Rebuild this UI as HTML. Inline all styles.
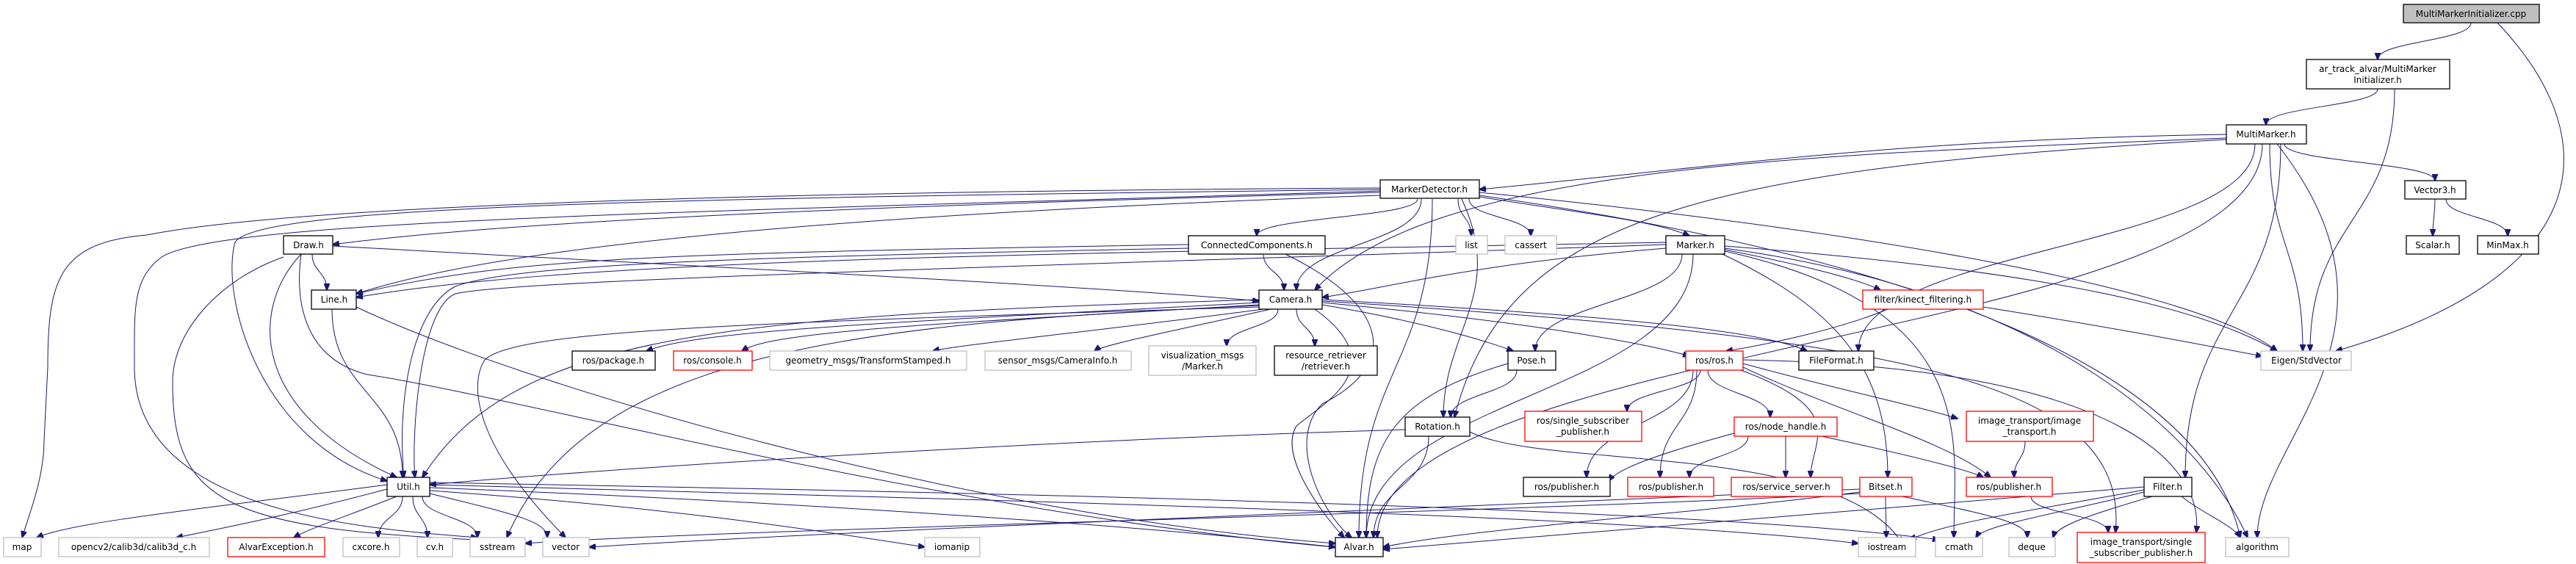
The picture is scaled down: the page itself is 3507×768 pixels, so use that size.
<!DOCTYPE html>
<html><head><meta charset="utf-8"><style>
html,body{margin:0;padding:0;background:#fff;}
svg{display:block;}
text{font-family:"DejaVu Sans","Liberation Sans",sans-serif;font-size:12px;fill:#000;text-anchor:middle;}
.b{fill:#fff;stroke:#000;stroke-width:1.3;}
.g{fill:#fff;stroke:#bfbfbf;stroke-width:1.3;}
.r{fill:#fff;stroke:#ff0000;stroke-width:1.3;}
.e{fill:none;stroke:#191970;stroke-width:1;marker-end:url(#a);}
</style></head><body>
<svg width="3507" height="768" viewBox="0 0 3507 768" xmlns="http://www.w3.org/2000/svg">
<defs><marker id="a" markerWidth="10" markerHeight="8" refX="9" refY="4" orient="auto" markerUnits="userSpaceOnUse"><path d="M0,0 L10,4 L0,8 z" fill="#191970" stroke="#191970"/></marker></defs>
<g>
<path class="e" d="M3364,31 C3364,56 3237,56 3237,81"/>
<path class="e" d="M3400,31 C3560,200 3520,380 3180,478"/>
<path class="e" d="M3237,121 C3237,145 3085,145 3085,170"/>
<path class="e" d="M3260,121 C3260,300 3145,300 3145,478"/>
<path class="e" d="M3110,196 C3110,221 3315,221 3315,246"/>
<path class="e" d="M3315,271 C3315,296 3312,296 3312,321"/>
<path class="e" d="M3330,271 C3330,296 3414,296 3414,321"/>
<path class="e" d="M3031,183 C2600,190 2400,220 2014,258"/>
<path class="e" d="M3031,188 C2500,210 1950,220 1790,395"/>
<path class="e" d="M3090,196 C3090,337 3135,337 3135,478"/>
<path class="e" d="M3100,196 C3300,450 3073,600 3073,732"/>
<path class="e" d="M3105,196 C3105,423 2975,423 2975,650"/>
<path class="e" d="M3070,196 C3070,337 2530,337 2530,478"/>
<path class="e" d="M3080,196 C3080,464 1875,464 1875,732"/>
<path class="e" d="M3031,190 C2300,230 2050,300 1980,568"/>
<path class="e" d="M1930,271 C1930,296 1711,296 1711,321"/>
<path class="e" d="M1985,271 C1985,296 2003,296 2003,321"/>
<path class="e" d="M2000,271 C2000,296 2084,296 2084,321"/>
<path class="e" d="M2014,268 C2150,290 2250,300 2300,321"/>
<path class="e" d="M1935,271 C1935,333 1765,333 1765,395"/>
<path class="e" d="M1879,262 C1200,280 700,300 453,333"/>
<path class="e" d="M1879,266 C1200,290 700,330 485,400"/>
<path class="e" d="M1879,258 C900,270 350,280 320,330 C300,400 350,600 527,655"/>
<path class="e" d="M1879,256 C800,262 350,290 200,320 C80,330 65,380 65,500 L60,600 C60,650 40,700 30,732"/>
<path class="e" d="M1879,260 C900,290 300,300 220,350 C180,380 183,420 183,500 C183,700 500,720 650,732"/>
<path class="e" d="M1950,271 C1950,500 1850,500 1850,732"/>
<path class="e" d="M1990,271 C2050,400 1965,450 1965,568"/>
<path class="e" d="M2014,262 C2600,320 3000,400 3100,478"/>
<path class="e" d="M2014,266 C2600,350 3000,500 3050,732"/>
<path class="e" d="M1720,346 C1720,370 1748,370 1748,395"/>
<path class="e" d="M1618,333 C900,345 700,350 485,400"/>
<path class="e" d="M1618,338 C1000,350 700,360 620,390 C560,420 540,550 550,650"/>
<path class="e" d="M1750,346 C1900,420 1900,500 1800,550 C1750,600 1800,700 1840,732"/>
<path class="e" d="M2268,338 C2000,360 1900,390 1800,405"/>
<path class="e" d="M2268,333 C1500,360 700,380 620,400 C570,420 560,600 565,650"/>
<path class="e" d="M2268,330 C1500,345 800,350 485,405"/>
<path class="e" d="M2290,346 C2290,412 2090,412 2090,478"/>
<path class="e" d="M2305,346 C2305,539 1860,539 1860,732"/>
<path class="e" d="M2348,340 C2450,360 2530,380 2560,395"/>
<path class="e" d="M2345,346 C2500,420 2570,500 2570,650"/>
<path class="e" d="M2348,335 C2800,370 3000,420 3100,478"/>
<path class="e" d="M2348,338 C2800,400 3000,600 3060,732"/>
<path class="e" d="M2348,342 C2700,420 2660,600 2660,732"/>
<path class="e" d="M425,346 C425,370 445,370 445,395"/>
<path class="e" d="M410,346 C340,420 340,560 540,650"/>
<path class="e" d="M453,335 C900,360 1500,390 1714,410"/>
<path class="e" d="M386,350 C300,380 235,450 235,520 C235,680 300,720 650,735"/>
<path class="e" d="M410,346 C400,420 420,490 500,510 C700,540 1300,700 1818,745"/>
<path class="e" d="M452,421 C452,535 548,535 548,650"/>
<path class="e" d="M485,418 C700,520 1300,700 1818,740"/>
<path class="e" d="M1714,408 C1000,430 700,450 575,650"/>
<path class="e" d="M1714,412 C1200,440 950,450 880,478"/>
<path class="e" d="M1714,415 C1300,440 1050,450 1010,478"/>
<path class="e" d="M1720,421 C1500,450 1300,470 1270,478"/>
<path class="e" d="M1730,421 C1600,450 1500,470 1490,478"/>
<path class="e" d="M1740,421 C1740,446 1670,446 1670,471"/>
<path class="e" d="M1765,421 C1765,446 1790,446 1790,471"/>
<path class="e" d="M1800,415 C1950,440 2040,470 2060,478"/>
<path class="e" d="M1800,412 C2100,440 2250,470 2300,485"/>
<path class="e" d="M1800,408 C2200,430 2400,450 2460,478"/>
<path class="e" d="M1790,421 C1900,500 1800,550 1765,580 C1740,620 1800,700 1830,732"/>
<path class="e" d="M1714,418 C1000,440 700,450 660,490 C640,520 640,600 770,732"/>
<path class="e" d="M1714,416 C1200,440 800,470 690,732"/>
<path class="e" d="M1800,410 C2600,460 2900,520 2880,725"/>
<path class="e" d="M2570,421 C2500,450 2400,470 2350,478"/>
<path class="e" d="M2700,418 C2900,450 3000,470 3080,485"/>
<path class="e" d="M2065,504 C2065,536 1975,536 1975,568"/>
<path class="e" d="M2053,495 C1900,540 1860,600 1860,732"/>
<path class="e" d="M2315,504 C2315,532 2215,532 2215,560"/>
<path class="e" d="M2325,504 C2325,536 2410,536 2410,568"/>
<path class="e" d="M2305,504 C2305,577 2160,577 2160,650"/>
<path class="e" d="M2310,504 C2310,577 2260,577 2260,650"/>
<path class="e" d="M2370,504 C2520,560 2465,600 2465,650"/>
<path class="e" d="M2373,500 C2500,560 2650,600 2710,650"/>
<path class="e" d="M2373,495 C2500,530 2620,555 2665,570"/>
<path class="e" d="M2373,490 C2900,500 3000,640 2990,725"/>
<path class="e" d="M2380,594 C2380,622 2300,622 2300,650"/>
<path class="e" d="M2361,590 C2250,620 2200,640 2190,655"/>
<path class="e" d="M2431,594 C2431,622 2431,622 2431,650"/>
<path class="e" d="M2480,594 C2600,620 2680,640 2700,650"/>
<path class="e" d="M2757,601 C2757,625 2742,625 2742,650"/>
<path class="e" d="M2765,676 C2765,700 2870,700 2870,725"/>
<path class="e" d="M1913,585 C1400,600 800,640 585,660"/>
<path class="e" d="M1945,594 C1945,663 1870,663 1870,732"/>
<path class="e" d="M2001,588 C2100,640 2500,600 2590,740"/>
<path class="e" d="M527,660 C300,690 100,710 50,732"/>
<path class="e" d="M527,666 C400,700 300,720 240,732"/>
<path class="e" d="M540,676 C480,700 420,720 400,732"/>
<path class="e" d="M548,676 C548,704 515,704 515,732"/>
<path class="e" d="M562,676 C562,704 582,704 582,732"/>
<path class="e" d="M575,676 C575,704 650,704 650,732"/>
<path class="e" d="M585,672 C700,700 745,710 745,732"/>
<path class="e" d="M585,668 C900,690 1100,720 1259,745"/>
<path class="e" d="M585,664 C1000,680 1500,710 1818,745"/>
<path class="e" d="M585,660 C1300,680 2200,700 2530,740"/>
<path class="e" d="M585,657 C1300,670 2300,690 2640,735"/>
<path class="e" d="M2567,676 C2567,704 2568,704 2568,732"/>
<path class="e" d="M2590,676 C2700,700 2760,710 2760,732"/>
<path class="e" d="M2532,670 C2300,700 2000,720 1883,745"/>
<path class="e" d="M2532,666 C2000,690 1200,720 802,745"/>
<path class="e" d="M2532,672 C2000,700 1000,720 715,740"/>
<path class="e" d="M2919,663 C2500,700 2100,730 1883,748"/>
<path class="e" d="M2970,676 C3000,700 3040,715 3050,732"/>
<path class="e" d="M2930,676 C2850,700 2800,715 2795,732"/>
<path class="e" d="M2919,670 C2800,700 2700,715 2690,732"/>
<path class="e" d="M2919,667 C2800,690 2650,710 2600,735"/>
</g>
<g>
<rect x="3272" y="6" width="185" height="25" fill="#bfbfbf" stroke="#000" stroke-width="1.3"/><text x="3364" y="23">MultiMarkerInitializer.cpp</text>
<rect class="b" x="3140" y="81" width="195" height="40"/><text x="3237" y="98">ar_track_alvar/MultiMarker</text><text x="3237" y="113">Initializer.h</text>
<rect class="b" x="3031" y="170" width="109" height="26"/><text x="3085" y="187">MultiMarker.h</text>
<rect class="b" x="3274" y="246" width="83" height="25"/><text x="3315" y="263">Vector3.h</text>
<rect class="b" x="3276" y="321" width="72" height="25"/><text x="3312" y="338">Scalar.h</text>
<rect class="b" x="3373" y="321" width="83" height="25"/><text x="3414" y="338">MinMax.h</text>
<rect class="b" x="1879" y="245" width="135" height="25"/><text x="1946" y="262">MarkerDetector.h</text>
<rect class="b" x="1618" y="321" width="186" height="25"/><text x="1711" y="338">ConnectedComponents.h</text>
<rect class="g" x="1982" y="321" width="43" height="25"/><text x="2003" y="338">list</text>
<rect class="g" x="2049" y="321" width="70" height="25"/><text x="2084" y="338">cassert</text>
<rect class="b" x="2268" y="321" width="80" height="25"/><text x="2308" y="338">Marker.h</text>
<rect class="b" x="386" y="321" width="67" height="25"/><text x="420" y="338">Draw.h</text>
<rect class="b" x="424" y="395" width="61" height="26"/><text x="455" y="412">Line.h</text>
<rect class="b" x="1714" y="395" width="86" height="26"/><text x="1757" y="412">Camera.h</text>
<rect class="r" x="2536" y="395" width="164" height="26"/><text x="2618" y="412">filter/kinect_filtering.h</text>
<rect class="b" x="779" y="478" width="113" height="26"/><text x="835" y="495">ros/package.h</text>
<rect class="r" x="917" y="478" width="107" height="26"/><text x="970" y="495">ros/console.h</text>
<rect class="g" x="1048" y="478" width="268" height="26"/><text x="1182" y="495">geometry_msgs/TransformStamped.h</text>
<rect class="g" x="1341" y="478" width="199" height="26"/><text x="1440" y="495">sensor_msgs/CameraInfo.h</text>
<rect class="g" x="1564" y="471" width="146" height="40"/><text x="1637" y="488">visualization_msgs</text><text x="1637" y="503">/Marker.h</text>
<rect class="b" x="1735" y="471" width="140" height="40"/><text x="1805" y="488">resource_retriever</text><text x="1805" y="503">/retriever.h</text>
<rect class="b" x="2053" y="478" width="65" height="26"/><text x="2085" y="495">Pose.h</text>
<rect class="r" x="2295" y="478" width="78" height="26"/><text x="2334" y="495">ros/ros.h</text>
<rect class="b" x="2449" y="478" width="102" height="26"/><text x="2500" y="495">FileFormat.h</text>
<rect class="g" x="3078" y="478" width="123" height="26"/><text x="3140" y="495">Eigen/StdVector</text>
<rect class="b" x="1913" y="568" width="88" height="26"/><text x="1957" y="585">Rotation.h</text>
<rect class="r" x="2076" y="560" width="159" height="41"/><text x="2155" y="577">ros/single_subscriber</text><text x="2155" y="592">_publisher.h</text>
<rect class="r" x="2361" y="568" width="140" height="26"/><text x="2431" y="585">ros/node_handle.h</text>
<rect class="r" x="2677" y="560" width="173" height="41"/><text x="2763" y="577">image_transport/image</text><text x="2763" y="592">_transport.h</text>
<rect class="b" x="527" y="650" width="58" height="26"/><text x="556" y="667">Util.h</text>
<rect class="b" x="2074" y="650" width="118" height="26"/><text x="2133" y="667">ros/publisher.h</text>
<rect class="r" x="2216" y="650" width="117" height="26"/><text x="2275" y="667">ros/publisher.h</text>
<rect class="r" x="2357" y="650" width="151" height="26"/><text x="2432" y="667">ros/service_server.h</text>
<rect class="r" x="2532" y="650" width="71" height="26"/><text x="2567" y="667">Bitset.h</text>
<rect class="r" x="2677" y="650" width="117" height="26"/><text x="2735" y="667">ros/publisher.h</text>
<rect class="b" x="2919" y="650" width="65" height="26"/><text x="2951" y="667">Filter.h</text>
<rect class="g" x="5" y="732" width="51" height="26"/><text x="30" y="749">map</text>
<rect class="g" x="80" y="732" width="205" height="26"/><text x="182" y="749">opencv2/calib3d/calib3d_c.h</text>
<rect class="r" x="310" y="732" width="132" height="26"/><text x="376" y="749">AlvarException.h</text>
<rect class="g" x="467" y="732" width="77" height="26"/><text x="505" y="749">cxcore.h</text>
<rect class="g" x="568" y="732" width="48" height="26"/><text x="592" y="749">cv.h</text>
<rect class="g" x="640" y="732" width="75" height="26"/><text x="677" y="749">sstream</text>
<rect class="g" x="739" y="732" width="63" height="26"/><text x="770" y="749">vector</text>
<rect class="g" x="1259" y="732" width="75" height="26"/><text x="1296" y="749">iomanip</text>
<rect class="b" x="1818" y="732" width="65" height="26"/><text x="1850" y="749">Alvar.h</text>
<rect class="g" x="2530" y="732" width="78" height="26"/><text x="2569" y="749">iostream</text>
<rect class="g" x="2635" y="732" width="64" height="26"/><text x="2667" y="749">cmath</text>
<rect class="g" x="2735" y="732" width="63" height="26"/><text x="2766" y="749">deque</text>
<rect class="r" x="2828" y="725" width="174" height="41"/><text x="2915" y="742">image_transport/single</text><text x="2915" y="757">_subscriber_publisher.h</text>
<rect class="g" x="3030" y="732" width="86" height="26"/><text x="3073" y="749">algorithm</text>
</g>
</svg>
</body></html>
